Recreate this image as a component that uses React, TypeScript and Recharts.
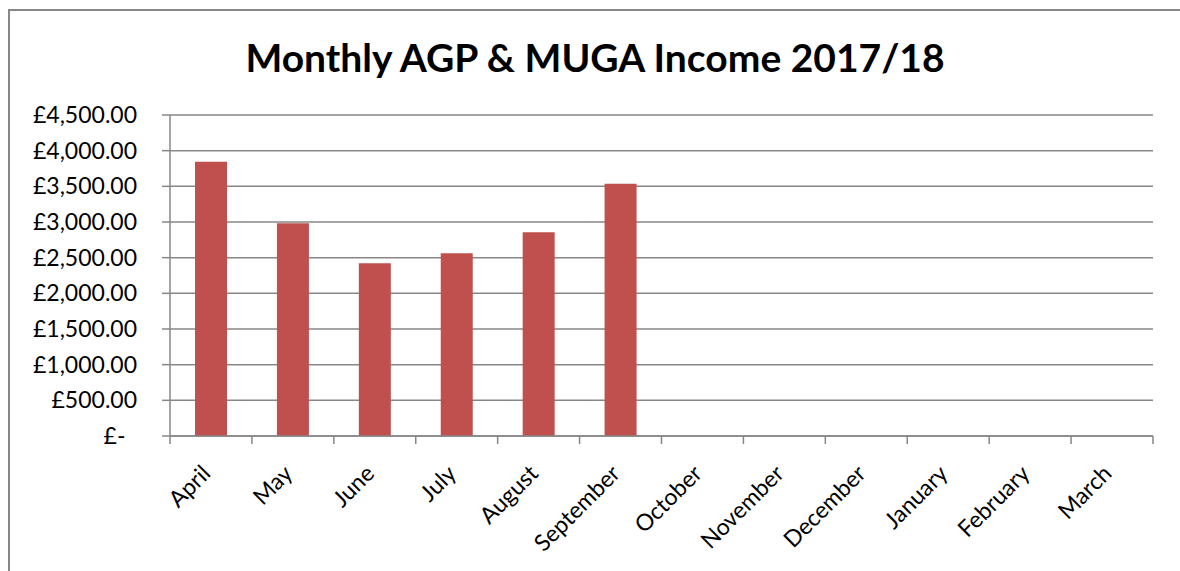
import React from "react";
import { BarChart, Bar, XAxis, YAxis, CartesianGrid } from "recharts";

const months = ["April","May","June","July","August","September","October","November","December","January","February","March"];
const income: (number | null)[] = [3845, 2982, 2421, 2561, 2856, 3537, null, null, null, null, null, null];
const yTicks = [0, 500, 1000, 1500, 2000, 2500, 3000, 3500, 4000, 4500];

const data = months.map((m, i) => ({ month: m, income: income[i] }));

const CHART_W = 1170;
const CHART_H = 560;
const MARGIN = { top: 104, right: 27, left: 0, bottom: 35 };
const Y_W = 160;
const X_H = 100;
const TICK_SIZE = 8;
const TICK_MARGIN = 4;
const GRID = "#878787";
const FONT = "Lato, 'Open Sans', sans-serif";

const fmt = (v: number) =>
  v === 0 ? "£-\u2002" : "£" + v.toLocaleString("en-GB", { minimumFractionDigits: 2, maximumFractionDigits: 2 });

const XTick = (props: any) => {
  const { x, y, payload, index } = props;
  const band = (CHART_W - MARGIN.left - MARGIN.right - Y_W) / months.length;
  const axisY = y - TICK_SIZE - TICK_MARGIN;
  const lx = x - band / 2;
  const ax = x + 1;
  const ay = y + 27;
  return (
    <g>
      <line x1={lx} x2={lx} y1={axisY} y2={axisY + TICK_SIZE} stroke={GRID} strokeWidth={1.5} />
      {index === months.length - 1 && (
        <line x1={x + band / 2} x2={x + band / 2} y1={axisY} y2={axisY + TICK_SIZE} stroke={GRID} strokeWidth={1.5} />
      )}
      <text
        x={ax}
        y={ay}
        textAnchor="end"
        fontSize={23}
        fontFamily={FONT}
        fill="#000"
        transform={`rotate(-45, ${ax}, ${ay})`}
      >
        {payload.value}
      </text>
    </g>
  );
};

export default function App() {
  return (
    <div style={{ position: "fixed", left: 0, top: 0, width: 1180, height: 571, overflow: "hidden", background: "#fff" }}>
      <div
        style={{
          position: "absolute",
          left: 8,
          top: 9,
          width: 1172,
          height: 562,
          boxSizing: "border-box",
          borderTop: `2px solid ${GRID}`,
          borderLeft: `2px solid ${GRID}`,
        }}
      >
        <div
          style={{
            position: "absolute",
            left: 0,
            top: 22,
            width: 1170,
            textAlign: "center",
            fontFamily: FONT,
            fontWeight: 700,
            fontSize: 39,
            lineHeight: "48px",
            color: "#000",
          }}
        >
          Monthly AGP &amp; MUGA Income 2017/18
        </div>
        <BarChart width={CHART_W} height={CHART_H} data={data} margin={MARGIN}>
          <CartesianGrid vertical={false} stroke={GRID} strokeWidth={1.5} />
          <XAxis
            dataKey="month"
            height={X_H}
            interval={0}
            tickLine={false}
            tickSize={TICK_SIZE}
            tickMargin={TICK_MARGIN}
            axisLine={{ stroke: GRID, strokeWidth: 1.5 }}
            tick={<XTick />}
          />
          <YAxis
            width={Y_W}
            domain={[0, 4500]}
            ticks={yTicks}
            interval={0}
            tickFormatter={fmt}
            tickSize={TICK_SIZE}
            tickMargin={25}
            tickLine={{ stroke: GRID, strokeWidth: 1.5 }}
            axisLine={{ stroke: GRID, strokeWidth: 1.5 }}
            tick={{ fill: "#000", fontSize: 23, fontFamily: FONT }}
          />
          <Bar dataKey="income" fill="#C0504D" barSize={32} isAnimationActive={false} />
        </BarChart>
      </div>
    </div>
  );
}
